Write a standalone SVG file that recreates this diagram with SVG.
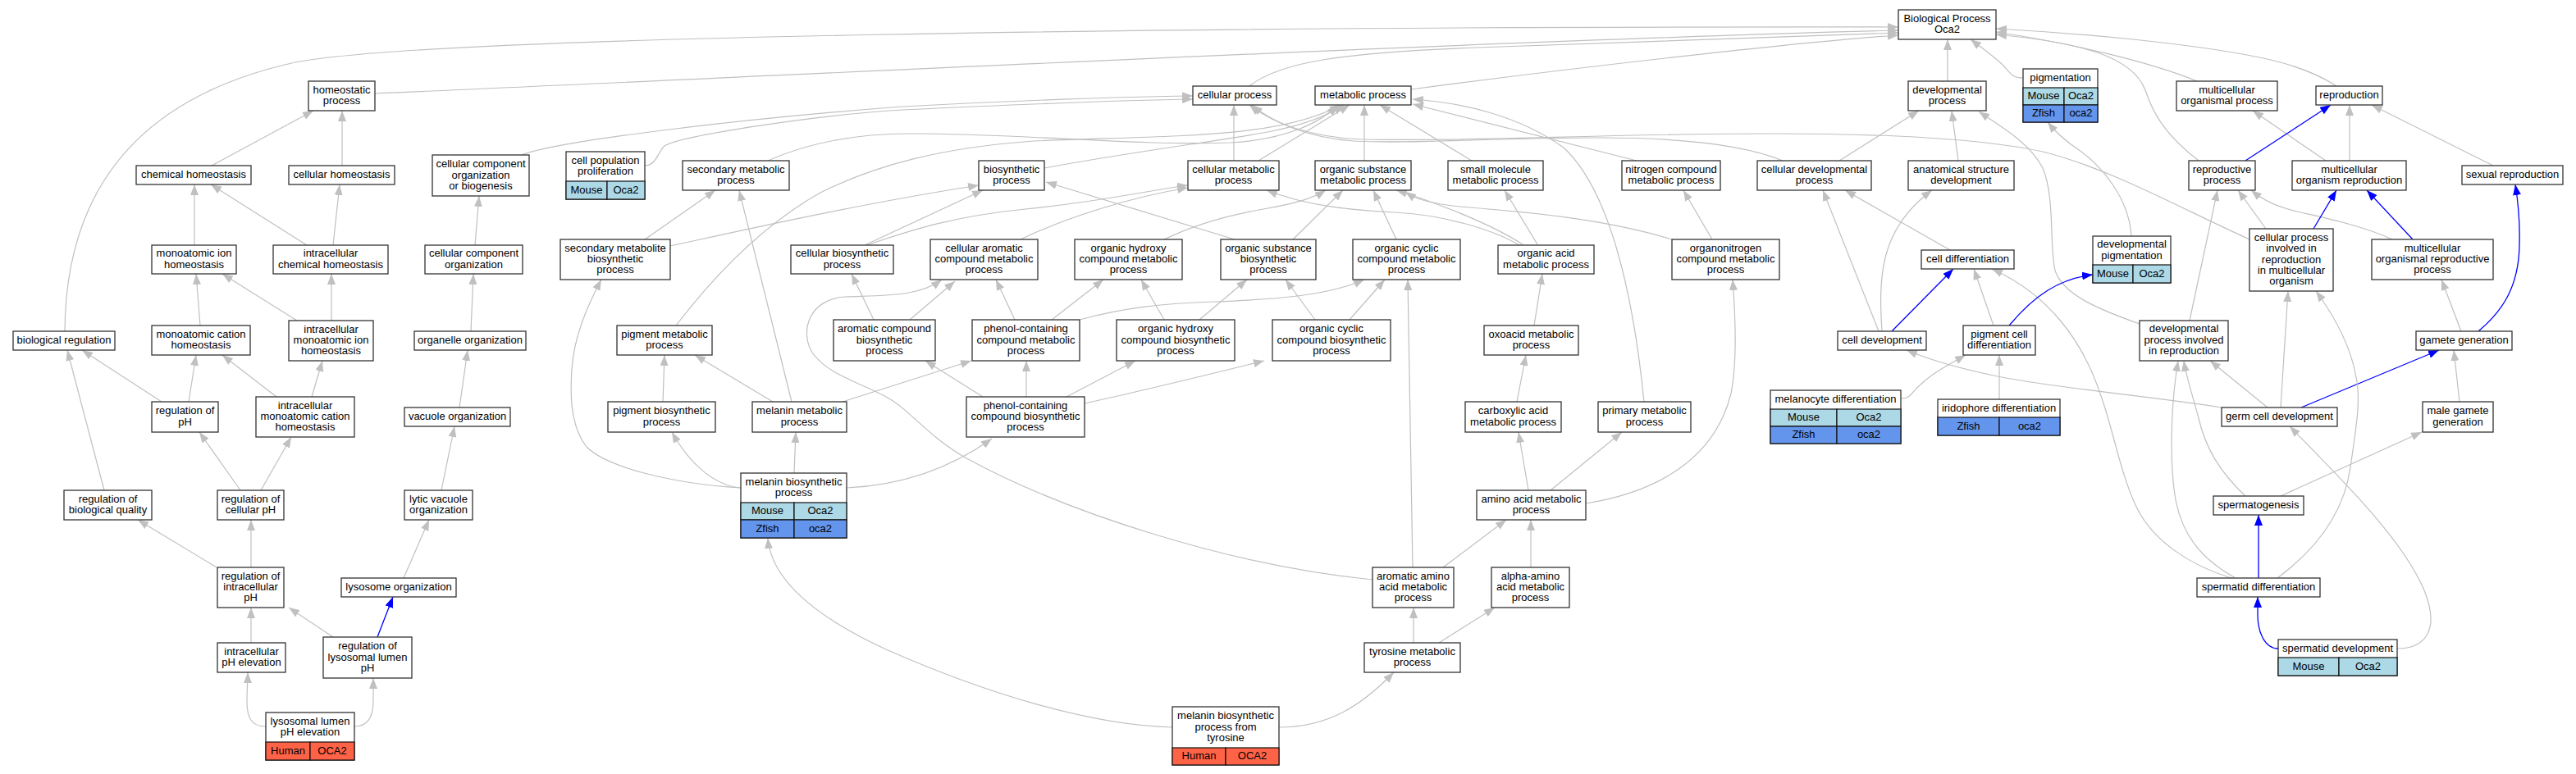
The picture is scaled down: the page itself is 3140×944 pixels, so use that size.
<svg xmlns="http://www.w3.org/2000/svg" width="3140" height="944" viewBox="0 0 3140 944">
<style>
.b{fill:#fff;stroke:#333;stroke-width:1.3}
.c{stroke:#111;stroke-width:1.2}
.mo{fill:#add8e6;stroke:#111;stroke-width:1.2}
.zf{fill:#6495ed;stroke:#111;stroke-width:1.2}
.hu{fill:#ff6347;stroke:#111;stroke-width:1.2}
.t{font-family:"Liberation Sans",Arial,Helvetica,sans-serif;font-size:13px;text-anchor:middle;fill:#000}
.e{fill:none;stroke:#c0c0c0;stroke-width:1.2;marker-end:url(#ag)}
.bl{fill:none;stroke:#0000ff;stroke-width:1.3;marker-end:url(#ab)}
</style>
<defs>
<marker id="ag" markerUnits="userSpaceOnUse" markerWidth="13" markerHeight="10" refX="13" refY="5" orient="auto" viewBox="0 0 13 10"><path d="M0,0 L13,5 L0,10 z" fill="#c0c0c0"/></marker>
<marker id="ab" markerUnits="userSpaceOnUse" markerWidth="13" markerHeight="10" refX="13" refY="5" orient="auto" viewBox="0 0 13 10"><path d="M0,0 L13,5 L0,10 z" fill="#0000ff"/></marker>
</defs>
<rect width="3140" height="944" fill="#fff"/>
<g id="edges">
<path class="e" d="M79,404 C80,240 160,120 360,76 C520,45 1400,32 2314,33"/>
<path class="e" d="M457,114 C900,95 1800,50 2314,37"/>
<path class="e" d="M1523,105 C1560,75 1640,64 1800,58 C2000,50 2200,44 2314,40"/>
<path class="e" d="M1720,109 C1900,85 2200,50 2314,43"/>
<path class="e" d="M2374,99 L2374,48"/>
<path class="e" d="M2466,95 C2450,95 2448,85 2440,78 C2428,67 2415,58 2402,48"/>
<path class="e" d="M2678,99 C2620,75 2520,52 2433,39"/>
<path class="e" d="M2848,105 C2810,80 2760,65 2600,48 C2520,40 2470,37 2433,35"/>
<path class="e" d="M2680,196 C2640,165 2625,140 2615,110 C2600,70 2540,52 2433,42"/>
<path class="e" d="M258,202 L382,135"/>
<path class="e" d="M417,202 L417,135"/>
<path class="e" d="M237,299 L237,225"/>
<path class="e" d="M374,299 L257,225"/>
<path class="e" d="M406,299 L414,225"/>
<path class="e" d="M244,397 L239,334"/>
<path class="e" d="M362,391 L271,334"/>
<path class="e" d="M404,391 L404,334"/>
<path class="e" d="M127,598 L82,427"/>
<path class="e" d="M197,490 L100,427"/>
<path class="e" d="M230,490 L239,433"/>
<path class="e" d="M337,484 L271,433"/>
<path class="e" d="M380,484 L393,440"/>
<path class="e" d="M293,598 L243,527"/>
<path class="e" d="M318,598 L355,533"/>
<path class="e" d="M264,692 L168,634"/>
<path class="e" d="M306,692 L306,634"/>
<path class="e" d="M306,784 L306,741"/>
<path class="e" d="M406,777 L352,741"/>
<path class="bl" d="M460,777 L479,728"/>
<path class="e" d="M324,886 C306,886 301,875 301,855 C301,840 302,830 302,820"/>
<path class="e" d="M432,886 C450,886 455,872 455,855 C455,845 455,835 455,827"/>
<path class="e" d="M538,598 L554,520"/>
<path class="e" d="M492,705 L523,634"/>
<path class="e" d="M579,299 L584,239"/>
<path class="e" d="M574,404 L577,334"/>
<path class="e" d="M560,497 L570,427"/>
<path class="e" d="M636,189 C680,172 900,145 1100,130 C1250,122 1380,118 1454,117"/>
<path class="e" d="M786,202 C800,202 802,185 810,178 C830,165 1000,140 1100,134 C1250,127 1380,122 1454,121"/>
<path class="e" d="M936,196 C990,172 1050,163 1110,163 C1250,163 1380,178 1500,174 C1570,170 1612,148 1630,128"/>
<path class="e" d="M824,397 C860,350 920,280 1000,235 C1070,200 1150,180 1260,172 C1420,165 1560,170 1634,128"/>
<path class="e" d="M1273,205 C1380,185 1500,170 1550,160 C1590,152 1620,140 1638,128"/>
<path class="e" d="M1534,196 L1645,128"/>
<path class="e" d="M1504,196 L1504,128"/>
<path class="e" d="M786,292 L872,232"/>
<path class="e" d="M817,300 C900,282 1050,248 1193,226"/>
<path class="e" d="M903,595 C820,590 740,570 715,545 C695,520 695,480 697,450 C700,410 715,375 733,341"/>
<path class="e" d="M903,595 C870,592 840,565 819,527"/>
<path class="e" d="M968,577 L970,527"/>
<path class="e" d="M1032,595 C1100,592 1160,570 1209,535"/>
<path class="e" d="M1429,887 C1330,885 1200,845 1080,792 C1000,755 940,710 936,656"/>
<path class="e" d="M1559,887 C1620,887 1660,860 1699,820"/>
<path class="e" d="M808,490 L810,433"/>
<path class="e" d="M942,490 L847,433"/>
<path class="e" d="M965,490 L901,232"/>
<path class="e" d="M1027,490 L1184,440"/>
<path class="e" d="M1054,299 L1198,232"/>
<path class="e" d="M1056,299 C1100,285 1150,265 1250,255 C1350,245 1400,232 1448,226"/>
<path class="e" d="M1065,390 L1038,334"/>
<path class="e" d="M1109,390 L1164,343"/>
<path class="e" d="M1673,707 C1500,690 1300,625 1180,560 C1130,532 1110,500 1080,484 C1050,467 1010,458 990,430 C975,405 985,365 1030,362 C1080,360 1120,362 1148,341"/>
<path class="e" d="M1198,484 L1128,440"/>
<path class="e" d="M1251,484 L1251,440"/>
<path class="e" d="M1300,484 L1384,440"/>
<path class="e" d="M1322,492 C1400,475 1480,455 1541,440"/>
<path class="e" d="M1237,390 L1214,341"/>
<path class="e" d="M1282,390 L1345,341"/>
<path class="e" d="M1316,390 C1370,375 1420,370 1480,368 C1560,365 1620,360 1663,341"/>
<path class="e" d="M1419,390 L1391,341"/>
<path class="e" d="M1462,390 L1520,341"/>
<path class="e" d="M1603,390 L1567,341"/>
<path class="e" d="M1645,390 L1688,341"/>
<path class="e" d="M1244,292 C1300,265 1380,240 1448,229"/>
<path class="e" d="M1419,292 C1460,272 1500,262 1540,255 C1580,248 1600,242 1616,232"/>
<path class="e" d="M1505,292 L1275,222"/>
<path class="e" d="M1576,292 L1637,232"/>
<path class="e" d="M1663,196 L1663,128"/>
<path class="e" d="M1794,196 L1682,128"/>
<path class="e" d="M1702,292 L1674,232"/>
<path class="e" d="M1856,298 C1820,275 1760,250 1702,232"/>
<path class="e" d="M1874,298 L1834,232"/>
<path class="e" d="M1852,299 C1820,280 1760,262 1700,259 C1640,256 1590,250 1544,232"/>
<path class="e" d="M2038,292 C1950,265 1850,258 1780,252 C1740,248 1725,242 1713,234"/>
<path class="e" d="M2087,292 L2052,232"/>
<path class="e" d="M1995,196 L1722,127"/>
<path class="e" d="M2004,490 C1990,350 1960,230 1906,180 C1850,140 1780,125 1722,121"/>
<path class="e" d="M1870,397 L1880,334"/>
<path class="e" d="M1849,490 L1860,433"/>
<path class="e" d="M1863,598 L1851,527"/>
<path class="e" d="M1890,598 L1977,527"/>
<path class="e" d="M1933,614 C2020,600 2090,560 2110,480 C2118,440 2115,380 2112,341"/>
<path class="e" d="M1759,692 L1836,634"/>
<path class="e" d="M1866,692 L1866,634"/>
<path class="e" d="M1722,692 L1716,341"/>
<path class="e" d="M1723,784 L1723,741"/>
<path class="e" d="M1754,784 L1822,741"/>
<path class="e" d="M2242,196 L2339,135"/>
<path class="e" d="M2387,196 L2379,135"/>
<path class="e" d="M2608,395 C2560,378 2515,360 2505,330 C2498,300 2505,240 2490,205 C2475,175 2440,155 2412,136"/>
<path class="e" d="M2742,292 C2650,250 2570,205 2490,185 C2420,170 2300,163 2160,163 C1950,163 1800,173 1660,170 C1600,168 1550,150 1523,128"/>
<path class="e" d="M2173,196 C2130,178 2060,168 1950,168 C1820,168 1720,176 1650,172 C1595,168 1552,150 1526,128"/>
<path class="e" d="M2598,288 C2595,240 2560,200 2530,180 C2515,170 2505,160 2496,149"/>
<path class="e" d="M2290,404 L2222,232"/>
<path class="e" d="M2377,305 L2249,232"/>
<path class="e" d="M2294,404 C2290,340 2290,280 2355,232"/>
<path class="bl" d="M2306,404 L2381,328"/>
<path class="e" d="M2430,397 L2406,328"/>
<path class="e" d="M2720,705 C2670,690 2625,660 2605,620 C2585,580 2575,520 2560,480 C2540,420 2500,360 2428,328"/>
<path class="bl" d="M2449,397 C2480,360 2510,340 2551,335"/>
<path class="e" d="M2708,497 C2620,483 2520,475 2440,460 C2390,450 2350,438 2324,427"/>
<path class="e" d="M2317,486 C2330,486 2330,478 2340,470 C2355,455 2375,445 2396,433"/>
<path class="e" d="M2437,487 L2437,433"/>
<path class="e" d="M2669,391 L2703,232"/>
<path class="e" d="M2725,705 C2680,680 2660,650 2652,610 C2645,570 2645,500 2655,440"/>
<path class="e" d="M2737,605 C2705,575 2688,545 2680,510 C2672,480 2665,460 2662,440"/>
<path class="e" d="M2764,497 L2694,440"/>
<path class="e" d="M2864,196 L2864,128"/>
<path class="e" d="M3039,202 L2891,128"/>
<path class="e" d="M2835,196 L2746,135"/>
<path class="e" d="M2762,279 L2728,232"/>
<path class="e" d="M2916,292 C2880,275 2830,265 2800,258 C2775,252 2760,245 2744,232"/>
<path class="bl" d="M2737,196 L2841,128"/>
<path class="bl" d="M2820,279 L2848,232"/>
<path class="bl" d="M2941,292 L2885,232"/>
<path class="bl" d="M3021,404 C3050,380 3070,350 3071,300 C3072,270 3070,250 3066,225"/>
<path class="e" d="M3000,404 L2976,341"/>
<path class="bl" d="M2805,497 L2973,427"/>
<path class="e" d="M2998,490 L2991,427"/>
<path class="e" d="M2780,497 L2789,355"/>
<path class="e" d="M2776,705 C2830,665 2858,620 2865,570 C2872,520 2878,490 2872,460 C2865,420 2845,385 2823,355"/>
<path class="e" d="M2922,791 C2955,791 2975,770 2955,720 C2930,660 2860,590 2791,520"/>
<path class="e" d="M2780,605 L2952,527"/>
<path class="bl" d="M2753,705 L2753,628"/>
<path class="bl" d="M2777,791 C2760,791 2752,770 2752,750 L2752,728"/>
</g>
<g id="bp"><rect class="b" x="2314" y="12" width="119" height="36"/><text class="t" x="2373.5" y="26.9">Biological Process</text><text class="t" x="2373.5" y="40.2">Oca2</text></g>
<g id="homeo"><rect class="b" x="376" y="99" width="81" height="36"/><text class="t" x="416.5" y="113.9">homeostatic</text><text class="t" x="416.5" y="127.2">process</text></g>
<g id="chemhomeo"><rect class="b" x="166" y="202" width="140" height="23"/><text class="t" x="236" y="217">chemical homeostasis</text></g>
<g id="cellhomeo"><rect class="b" x="352" y="202" width="129" height="23"/><text class="t" x="416.5" y="217">cellular homeostasis</text></g>
<g id="monoion"><rect class="b" x="185" y="299" width="103" height="35"/><text class="t" x="236.5" y="313.4">monoatomic ion</text><text class="t" x="236.5" y="326.7">homeostasis</text></g>
<g id="icchem"><rect class="b" x="333" y="299" width="140" height="35"/><text class="t" x="403" y="313.4">intracellular</text><text class="t" x="403" y="326.7">chemical homeostasis</text></g>
<g id="bioreg"><rect class="b" x="16" y="404" width="124" height="23"/><text class="t" x="78" y="419">biological regulation</text></g>
<g id="monocation"><rect class="b" x="185" y="397" width="120" height="36"/><text class="t" x="245" y="411.9">monoatomic cation</text><text class="t" x="245" y="425.2">homeostasis</text></g>
<g id="icmonoion"><rect class="b" x="352" y="391" width="103" height="49"/><text class="t" x="403.5" y="405.7">intracellular</text><text class="t" x="403.5" y="419">monoatomic ion</text><text class="t" x="403.5" y="432.3">homeostasis</text></g>
<g id="regph"><rect class="b" x="185" y="490" width="81" height="37"/><text class="t" x="225.5" y="505.4">regulation of</text><text class="t" x="225.5" y="518.7">pH</text></g>
<g id="icmonocation"><rect class="b" x="312" y="484" width="120" height="49"/><text class="t" x="372" y="498.7">intracellular</text><text class="t" x="372" y="512">monoatomic cation</text><text class="t" x="372" y="525.3">homeostasis</text></g>
<g id="regbioq"><rect class="b" x="78" y="598" width="107" height="36"/><text class="t" x="131.5" y="612.9">regulation of</text><text class="t" x="131.5" y="626.2">biological quality</text></g>
<g id="regcellph"><rect class="b" x="265" y="598" width="81" height="36"/><text class="t" x="305.5" y="612.9">regulation of</text><text class="t" x="305.5" y="626.2">cellular pH</text></g>
<g id="regicph"><rect class="b" x="265" y="692" width="81" height="49"/><text class="t" x="305.5" y="706.7">regulation of</text><text class="t" x="305.5" y="720">intracellular</text><text class="t" x="305.5" y="733.3">pH</text></g>
<g id="icphelev"><rect class="b" x="265" y="784" width="83" height="36"/><text class="t" x="306.5" y="798.9">intracellular</text><text class="t" x="306.5" y="812.2">pH elevation</text></g>
<g id="reglyso"><rect class="b" x="394" y="777" width="108" height="50"/><text class="t" x="448" y="792.2">regulation of</text><text class="t" x="448" y="805.5">lysosomal lumen</text><text class="t" x="448" y="818.8">pH</text></g>
<g id="lysoelev"><rect class="b" x="324" y="869" width="108" height="58"/><rect class="hu" x="324" y="905" width="54" height="22"/><rect class="hu" x="378" y="905" width="54" height="22"/><text class="t" x="378" y="883.9">lysosomal lumen</text><text class="t" x="378" y="897.2">pH elevation</text><text class="t" x="351" y="919.5">Human</text><text class="t" x="405" y="919.5">OCA2</text></g>
<g id="ccob"><rect class="b" x="527" y="189" width="118" height="50"/><text class="t" x="586" y="204.2">cellular component</text><text class="t" x="586" y="217.5">organization</text><text class="t" x="586" y="230.8">or biogenesis</text></g>
<g id="cco"><rect class="b" x="518" y="299" width="119" height="35"/><text class="t" x="577.5" y="313.4">cellular component</text><text class="t" x="577.5" y="326.7">organization</text></g>
<g id="orgorg"><rect class="b" x="505" y="404" width="136" height="23"/><text class="t" x="573" y="419">organelle organization</text></g>
<g id="vacorg"><rect class="b" x="493" y="497" width="129" height="23"/><text class="t" x="557.5" y="512">vacuole organization</text></g>
<g id="lyticvac"><rect class="b" x="493" y="598" width="83" height="36"/><text class="t" x="534.5" y="612.9">lytic vacuole</text><text class="t" x="534.5" y="626.2">organization</text></g>
<g id="lysoorg"><rect class="b" x="416" y="705" width="140" height="23"/><text class="t" x="486" y="720">lysosome organization</text></g>
<g id="cellpop"><rect class="b" x="690" y="185" width="96" height="58"/><rect class="mo" x="690" y="221" width="50" height="22"/><rect class="mo" x="740" y="221" width="46" height="22"/><text class="t" x="738" y="199.9">cell population</text><text class="t" x="738" y="213.2">proliferation</text><text class="t" x="715" y="235.5">Mouse</text><text class="t" x="763" y="235.5">Oca2</text></g>
<g id="secmet"><rect class="b" x="832" y="196" width="130" height="36"/><text class="t" x="897" y="210.9">secondary metabolic</text><text class="t" x="897" y="224.2">process</text></g>
<g id="secmetbio"><rect class="b" x="683" y="292" width="134" height="49"/><text class="t" x="750" y="306.7">secondary metabolite</text><text class="t" x="750" y="320">biosynthetic</text><text class="t" x="750" y="333.3">process</text></g>
<g id="pigmet"><rect class="b" x="752" y="397" width="116" height="36"/><text class="t" x="810" y="411.9">pigment metabolic</text><text class="t" x="810" y="425.2">process</text></g>
<g id="pigbio"><rect class="b" x="741" y="490" width="131" height="37"/><text class="t" x="806.5" y="505.4">pigment biosynthetic</text><text class="t" x="806.5" y="518.7">process</text></g>
<g id="melmet"><rect class="b" x="917" y="490" width="115" height="37"/><text class="t" x="974.5" y="505.4">melanin metabolic</text><text class="t" x="974.5" y="518.7">process</text></g>
<g id="melbio"><rect class="b" x="903" y="577" width="129" height="79"/><rect class="mo" x="903" y="613" width="65" height="21"/><rect class="mo" x="968" y="613" width="64" height="21"/><rect class="zf" x="903" y="634" width="65" height="22"/><rect class="zf" x="968" y="634" width="64" height="22"/><text class="t" x="967.5" y="591.9">melanin biosynthetic</text><text class="t" x="967.5" y="605.2">process</text><text class="t" x="935.5" y="627">Mouse</text><text class="t" x="1000" y="627">Oca2</text><text class="t" x="935.5" y="648.5">Zfish</text><text class="t" x="1000" y="648.5">oca2</text></g>
<g id="cellbio"><rect class="b" x="964" y="299" width="125" height="35"/><text class="t" x="1026.5" y="313.4">cellular biosynthetic</text><text class="t" x="1026.5" y="326.7">process</text></g>
<g id="arombio"><rect class="b" x="1016" y="390" width="124" height="50"/><text class="t" x="1078" y="405.2">aromatic compound</text><text class="t" x="1078" y="418.5">biosynthetic</text><text class="t" x="1078" y="431.8">process</text></g>
<g id="cellproc"><rect class="b" x="1454" y="105" width="102" height="23"/><text class="t" x="1505" y="120">cellular process</text></g>
<g id="metproc"><rect class="b" x="1603" y="105" width="117" height="23"/><text class="t" x="1661.5" y="120">metabolic process</text></g>
<g id="biosyn"><rect class="b" x="1193" y="196" width="80" height="36"/><text class="t" x="1233" y="210.9">biosynthetic</text><text class="t" x="1233" y="224.2">process</text></g>
<g id="cellmet"><rect class="b" x="1448" y="196" width="111" height="36"/><text class="t" x="1503.5" y="210.9">cellular metabolic</text><text class="t" x="1503.5" y="224.2">process</text></g>
<g id="orgsubmet"><rect class="b" x="1603" y="196" width="117" height="36"/><text class="t" x="1661.5" y="210.9">organic substance</text><text class="t" x="1661.5" y="224.2">metabolic process</text></g>
<g id="cellarom"><rect class="b" x="1134" y="292" width="131" height="49"/><text class="t" x="1199.5" y="306.7">cellular aromatic</text><text class="t" x="1199.5" y="320">compound metabolic</text><text class="t" x="1199.5" y="333.3">process</text></g>
<g id="orghydmet"><rect class="b" x="1310" y="292" width="131" height="49"/><text class="t" x="1375.5" y="306.7">organic hydroxy</text><text class="t" x="1375.5" y="320">compound metabolic</text><text class="t" x="1375.5" y="333.3">process</text></g>
<g id="orgsubbio"><rect class="b" x="1488" y="292" width="116" height="49"/><text class="t" x="1546" y="306.7">organic substance</text><text class="t" x="1546" y="320">biosynthetic</text><text class="t" x="1546" y="333.3">process</text></g>
<g id="phenolmet"><rect class="b" x="1185" y="390" width="131" height="50"/><text class="t" x="1250.5" y="405.2">phenol-containing</text><text class="t" x="1250.5" y="418.5">compound metabolic</text><text class="t" x="1250.5" y="431.8">process</text></g>
<g id="orghydbio"><rect class="b" x="1361" y="390" width="144" height="50"/><text class="t" x="1433" y="405.2">organic hydroxy</text><text class="t" x="1433" y="418.5">compound biosynthetic</text><text class="t" x="1433" y="431.8">process</text></g>
<g id="orgcycbio"><rect class="b" x="1551" y="390" width="144" height="50"/><text class="t" x="1623" y="405.2">organic cyclic</text><text class="t" x="1623" y="418.5">compound biosynthetic</text><text class="t" x="1623" y="431.8">process</text></g>
<g id="phenolbio"><rect class="b" x="1178" y="484" width="144" height="49"/><text class="t" x="1250" y="498.7">phenol-containing</text><text class="t" x="1250" y="512">compound biosynthetic</text><text class="t" x="1250" y="525.3">process</text></g>
<g id="meltyr"><rect class="b" x="1429" y="862" width="130" height="71"/><rect class="hu" x="1429" y="912" width="65" height="21"/><rect class="hu" x="1494" y="912" width="65" height="21"/><text class="t" x="1494" y="877.2">melanin biosynthetic</text><text class="t" x="1494" y="890.5">process from</text><text class="t" x="1494" y="903.8">tyrosine</text><text class="t" x="1461.5" y="926">Human</text><text class="t" x="1526.5" y="926">OCA2</text></g>
<g id="smallmol"><rect class="b" x="1765" y="196" width="116" height="36"/><text class="t" x="1823" y="210.9">small molecule</text><text class="t" x="1823" y="224.2">metabolic process</text></g>
<g id="nitro"><rect class="b" x="1977" y="196" width="120" height="36"/><text class="t" x="2037" y="210.9">nitrogen compound</text><text class="t" x="2037" y="224.2">metabolic process</text></g>
<g id="orgcycmet"><rect class="b" x="1649" y="292" width="131" height="49"/><text class="t" x="1714.5" y="306.7">organic cyclic</text><text class="t" x="1714.5" y="320">compound metabolic</text><text class="t" x="1714.5" y="333.3">process</text></g>
<g id="orgacid"><rect class="b" x="1826" y="299" width="117" height="35"/><text class="t" x="1884.5" y="313.4">organic acid</text><text class="t" x="1884.5" y="326.7">metabolic process</text></g>
<g id="organonit"><rect class="b" x="2038" y="292" width="131" height="49"/><text class="t" x="2103.5" y="306.7">organonitrogen</text><text class="t" x="2103.5" y="320">compound metabolic</text><text class="t" x="2103.5" y="333.3">process</text></g>
<g id="oxoacid"><rect class="b" x="1809" y="397" width="115" height="36"/><text class="t" x="1866.5" y="411.9">oxoacid metabolic</text><text class="t" x="1866.5" y="425.2">process</text></g>
<g id="carbox"><rect class="b" x="1786" y="490" width="117" height="37"/><text class="t" x="1844.5" y="505.4">carboxylic acid</text><text class="t" x="1844.5" y="518.7">metabolic process</text></g>
<g id="primary"><rect class="b" x="1948" y="490" width="113" height="37"/><text class="t" x="2004.5" y="505.4">primary metabolic</text><text class="t" x="2004.5" y="518.7">process</text></g>
<g id="aminoacid"><rect class="b" x="1800" y="598" width="133" height="36"/><text class="t" x="1866.5" y="612.9">amino acid metabolic</text><text class="t" x="1866.5" y="626.2">process</text></g>
<g id="aromamino"><rect class="b" x="1673" y="692" width="99" height="49"/><text class="t" x="1722.5" y="706.7">aromatic amino</text><text class="t" x="1722.5" y="720">acid metabolic</text><text class="t" x="1722.5" y="733.3">process</text></g>
<g id="alphaamino"><rect class="b" x="1818" y="692" width="95" height="49"/><text class="t" x="1865.5" y="706.7">alpha-amino</text><text class="t" x="1865.5" y="720">acid metabolic</text><text class="t" x="1865.5" y="733.3">process</text></g>
<g id="tyrosine"><rect class="b" x="1663" y="784" width="117" height="36"/><text class="t" x="1721.5" y="798.9">tyrosine metabolic</text><text class="t" x="1721.5" y="812.2">process</text></g>
<g id="devproc"><rect class="b" x="2326" y="99" width="95" height="36"/><text class="t" x="2373.5" y="113.9">developmental</text><text class="t" x="2373.5" y="127.2">process</text></g>
<g id="pigmentation"><rect class="b" x="2466" y="84" width="91" height="65"/><rect class="mo" x="2466" y="107" width="50" height="21"/><rect class="mo" x="2516" y="107" width="41" height="21"/><rect class="zf" x="2466" y="128" width="50" height="21"/><rect class="zf" x="2516" y="128" width="41" height="21"/><text class="t" x="2511.5" y="99">pigmentation</text><text class="t" x="2491" y="121">Mouse</text><text class="t" x="2536.5" y="121">Oca2</text><text class="t" x="2491" y="142">Zfish</text><text class="t" x="2536.5" y="142">oca2</text></g>
<g id="multiorg"><rect class="b" x="2653" y="99" width="123" height="36"/><text class="t" x="2714.5" y="113.9">multicellular</text><text class="t" x="2714.5" y="127.2">organismal process</text></g>
<g id="celldevproc"><rect class="b" x="2142" y="196" width="139" height="36"/><text class="t" x="2211.5" y="210.9">cellular developmental</text><text class="t" x="2211.5" y="224.2">process</text></g>
<g id="anat"><rect class="b" x="2326" y="196" width="129" height="36"/><text class="t" x="2390.5" y="210.9">anatomical structure</text><text class="t" x="2390.5" y="224.2">development</text></g>
<g id="reprodproc"><rect class="b" x="2668" y="196" width="81" height="36"/><text class="t" x="2708.5" y="210.9">reproductive</text><text class="t" x="2708.5" y="224.2">process</text></g>
<g id="celldiff"><rect class="b" x="2342" y="305" width="113" height="23"/><text class="t" x="2398.5" y="320">cell differentiation</text></g>
<g id="devpig"><rect class="b" x="2551" y="288" width="95" height="57"/><rect class="mo" x="2551" y="323" width="49" height="22"/><rect class="mo" x="2600" y="323" width="46" height="22"/><text class="t" x="2598.5" y="302.4">developmental</text><text class="t" x="2598.5" y="315.7">pigmentation</text><text class="t" x="2575.5" y="337.5">Mouse</text><text class="t" x="2623" y="337.5">Oca2</text></g>
<g id="celldev"><rect class="b" x="2240" y="404" width="108" height="23"/><text class="t" x="2294" y="419">cell development</text></g>
<g id="pigcelldiff"><rect class="b" x="2393" y="397" width="88" height="36"/><text class="t" x="2437" y="411.9">pigment cell</text><text class="t" x="2437" y="425.2">differentiation</text></g>
<g id="devreprod"><rect class="b" x="2608" y="391" width="108" height="49"/><text class="t" x="2662" y="405.2">developmental</text><text class="t" x="2662" y="418.5">process involved</text><text class="t" x="2662" y="431.8">in reproduction</text></g>
<g id="melano"><rect class="b" x="2158" y="476" width="159" height="65"/><rect class="mo" x="2158" y="499" width="81" height="21"/><rect class="mo" x="2239" y="499" width="78" height="21"/><rect class="zf" x="2158" y="520" width="81" height="21"/><rect class="zf" x="2239" y="520" width="78" height="21"/><text class="t" x="2237.5" y="491">melanocyte differentiation</text><text class="t" x="2198.5" y="513">Mouse</text><text class="t" x="2278" y="513">Oca2</text><text class="t" x="2198.5" y="534">Zfish</text><text class="t" x="2278" y="534">oca2</text></g>
<g id="irido"><rect class="b" x="2362" y="487" width="149" height="44"/><rect class="zf" x="2362" y="509" width="75" height="22"/><rect class="zf" x="2437" y="509" width="74" height="22"/><text class="t" x="2436.5" y="501.5">iridophore differentiation</text><text class="t" x="2399.5" y="523.5">Zfish</text><text class="t" x="2474" y="523.5">oca2</text></g>
<g id="reproduction"><rect class="b" x="2823" y="105" width="81" height="23"/><text class="t" x="2863.5" y="120">reproduction</text></g>
<g id="multiorgrep"><rect class="b" x="2794" y="196" width="139" height="36"/><text class="t" x="2863.5" y="210.9">multicellular</text><text class="t" x="2863.5" y="224.2">organism reproduction</text></g>
<g id="sexrep"><rect class="b" x="3001" y="202" width="123" height="23"/><text class="t" x="3062.5" y="217">sexual reproduction</text></g>
<g id="cpinvolved"><rect class="b" x="2742" y="279" width="102" height="76"/><text class="t" x="2793" y="293.9">cellular process</text><text class="t" x="2793" y="307.2">involved in</text><text class="t" x="2793" y="320.5">reproduction</text><text class="t" x="2793" y="333.8">in multicellular</text><text class="t" x="2793" y="347.1">organism</text></g>
<g id="morp"><rect class="b" x="2891" y="292" width="148" height="49"/><text class="t" x="2965" y="306.7">multicellular</text><text class="t" x="2965" y="320">organismal reproductive</text><text class="t" x="2965" y="333.3">process</text></g>
<g id="gamete"><rect class="b" x="2945" y="404" width="117" height="23"/><text class="t" x="3003.5" y="419">gamete generation</text></g>
<g id="germcell"><rect class="b" x="2708" y="497" width="141" height="23"/><text class="t" x="2778.5" y="512">germ cell development</text></g>
<g id="malegamete"><rect class="b" x="2953" y="490" width="86" height="37"/><text class="t" x="2996" y="505.4">male gamete</text><text class="t" x="2996" y="518.7">generation</text></g>
<g id="spermatogenesis"><rect class="b" x="2698" y="605" width="110" height="23"/><text class="t" x="2753" y="620">spermatogenesis</text></g>
<g id="spermatiddiff"><rect class="b" x="2678" y="705" width="150" height="23"/><text class="t" x="2753" y="720">spermatid differentiation</text></g>
<g id="spermatiddev"><rect class="b" x="2777" y="780" width="145" height="44"/><rect class="mo" x="2777" y="802" width="74" height="22"/><rect class="mo" x="2851" y="802" width="71" height="22"/><text class="t" x="2849.5" y="794.5">spermatid development</text><text class="t" x="2814" y="816.5">Mouse</text><text class="t" x="2886.5" y="816.5">Oca2</text></g>
</svg>
